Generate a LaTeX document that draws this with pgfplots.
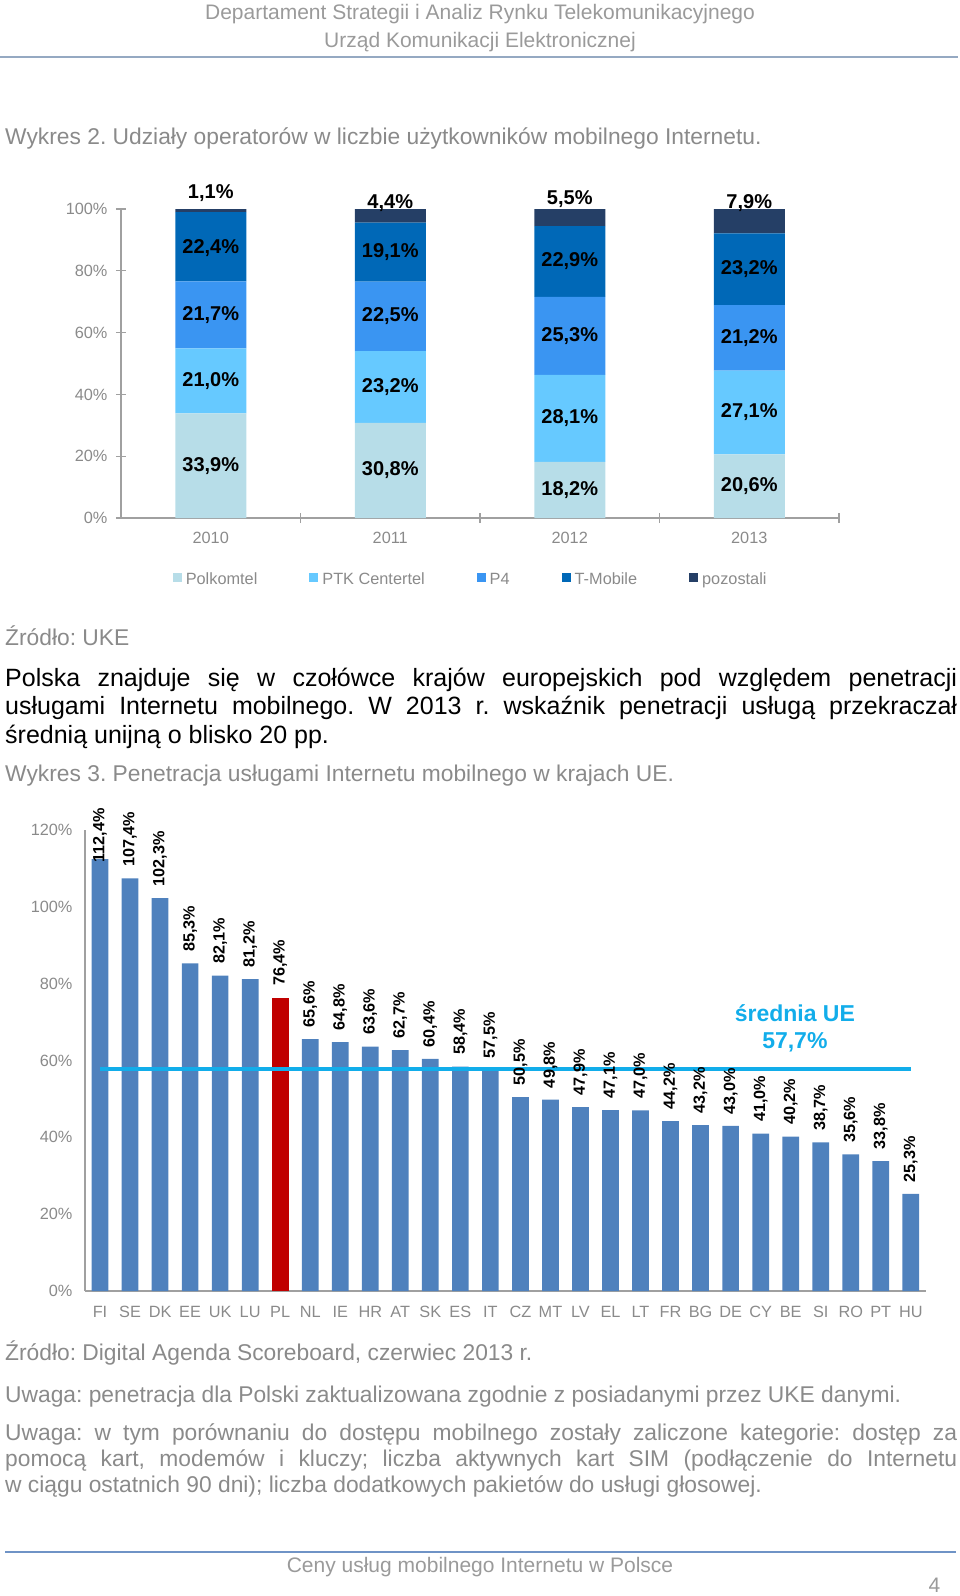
\documentclass[border=0pt]{standalone}
\usepackage{fontspec}
\setmainfont{Liberation Sans}
\usepackage{pgfplots}
\pgfplotsset{compat=1.18}
\definecolor{hdr}{HTML}{9A9A9A}
\definecolor{txtgray}{HTML}{8A8A8A}
\definecolor{axgray}{HTML}{A0A0A0}
\definecolor{c1}{HTML}{B7DDE8}
\definecolor{c2}{HTML}{66C9FF}
\definecolor{c3}{HTML}{3A95F2}
\definecolor{c4}{HTML}{0068B7}
\definecolor{c5}{HTML}{253F66}
\definecolor{barblue}{HTML}{4F81BD}
\definecolor{plred}{HTML}{C00000}
\definecolor{avgblue}{HTML}{12ADEA}
\definecolor{ruleA}{HTML}{95A9C2}
\definecolor{ruleB}{HTML}{6F93C6}
\pgfplotsset{sqlegend/.style={legend image code/.code={\fill[##1,draw=none] (0pt,-0.3pt) rectangle (9pt,8.7pt);}}}
\newcommand{\fs}[2]{\fontsize{#1}{#2}\selectfont}
\frenchspacing
\begin{document}
\frenchspacing
\begin{tikzpicture}[x=1pt,y=1pt]
\useasboundingbox (0,0) rectangle (960,-1596);
% header
\node[anchor=base, inner sep=0pt, text=hdr, font=\fs{21}{25}] at (480,-19.5) {Departament Strategii i Analiz Rynku Telekomunikacyjnego};
\node[anchor=base, inner sep=0pt, text=hdr, font=\fs{21}{25}] at (480,-47.5) {Urząd Komunikacji Elektronicznej};
\draw[ruleA, line width=2.5pt] (0,-57) -- (958,-57);
\node[anchor=base west, inner sep=0pt, text=txtgray, font=\fs{22.8}{26}] at (5,-144.5) {Wykres 2. Udziały operatorów w liczbie użytkowników mobilnego Internetu.};

% chart 1
\begin{axis}[
  at={(121pt,-518pt)}, anchor=south west, scale only axis,
  width=718pt, height=309pt,
  xmin=-0.5, xmax=3.5, ymin=0, ymax=100,
  ybar stacked, bar width=71pt,
  axis x line*=bottom, axis y line*=left,
  axis line style={draw=axgray, line width=1.2pt},
  xtick={0.5,1.5,2.5,3.5}, xticklabels={},
  extra x ticks={0,1,2,3}, extra x tick labels={2010,2011,2012,2013},
  extra x tick style={major tick length=0pt, xticklabel style={yshift=-11pt}},
  ytick={0,20,40,60,80,100}, yticklabels={0\%,20\%,40\%,60\%,80\%,100\%},
  tick align=center, major tick length=10pt,
  tick style={draw=axgray, line width=1.2pt},
  tick label style={font=\fs{16.3}{19}, text=txtgray},
  yticklabel style={xshift=-5pt},
  legend columns=5, legend cell align=left,
  legend style={draw=none, fill=none, at={(0.487,-0.204)}, anchor=center, font=\fs{16.3}{19}, text=txtgray,
    nodes={text height=0.72em, text depth=0.2em},
    /tikz/every odd column/.append style={column sep=2pt},
    /tikz/every even column/.append style={column sep=50pt}},
]
\addplot[fill=c1, draw=none, sqlegend] coordinates {(0,33.9) (1,30.8) (2,18.2) (3,20.6)};
\addplot[fill=c2, draw=none, sqlegend] coordinates {(0,21.0) (1,23.2) (2,28.1) (3,27.1)};
\addplot[fill=c3, draw=none, sqlegend] coordinates {(0,21.7) (1,22.5) (2,25.3) (3,21.2)};
\addplot[fill=c4, draw=none, sqlegend] coordinates {(0,22.4) (1,19.1) (2,22.9) (3,23.2)};
\addplot[fill=c5, draw=none, sqlegend] coordinates {(0,1.1) (1,4.4) (2,5.5) (3,7.9)};
\legend{Polkomtel,PTK Centertel,P4,T-Mobile,pozostali}
\end{axis}
\begin{axis}[
  at={(121pt,-518pt)}, anchor=south west, scale only axis,
  width=718pt, height=309pt,
  xmin=-0.5, xmax=3.5, ymin=0, ymax=100,
  hide axis, clip=false,
]
\addplot[draw=none, mark=none, nodes near coords, point meta=explicit symbolic,
  every node near coord/.append style={anchor=center, inner sep=0pt, font=\bfseries\fs{20}{24}, text=black}]
  table[row sep=\\, x index=0, y index=1, meta index=2, header=false] {
0 16.95 33,9\%\\
0 44.4 21,0\%\\
0 65.75 21,7\%\\
0 87.45 22,4\%\\
0 105.2 1,1\%\\
1 15.4 30,8\%\\
1 42.4 23,2\%\\
1 65.25 22,5\%\\
1 86.05 19,1\%\\
1 101.9 4,4\%\\
2 9.1 18,2\%\\
2 32.25 28,1\%\\
2 58.95 25,3\%\\
2 83.05 22,9\%\\
2 103.2 5,5\%\\
3 10.3 20,6\%\\
3 34.15 27,1\%\\
3 58.3 21,2\%\\
3 80.5 23,2\%\\
3 101.9 7,9\%\\
};
\end{axis}

% texts between
\node[anchor=base west, inner sep=0pt, text=txtgray, font=\fs{22.8}{26}] at (5,-645.5) {Źródło: UKE};
\node[anchor=base west, inner sep=0pt] at (5,-686) {\parbox[t]{952pt}{\fs{25}{28.5}\frenchspacing\tolerance=9999 Polska znajduje się w czołówce krajów europejskich pod względem penetracji\linebreak usługami Internetu mobilnego. W 2013 r. wskaźnik penetracji usługą przekraczał\linebreak średnią unijną o blisko 20 pp.}};
\node[anchor=base west, inner sep=0pt, text=txtgray, font=\fs{22.8}{26}] at (5,-781.5) {Wykres 3. Penetracja usługami Internetu mobilnego w krajach UE.};

% chart 2
\begin{axis}[
  at={(85pt,-1291pt)}, anchor=south west, scale only axis,
  width=840.8pt, height=461pt,
  xmin=-0.5, xmax=27.5, ymin=0, ymax=120, clip=false,
  axis x line*=bottom, axis y line*=left,
  axis line style={draw=axgray, line width=1.2pt},
  xtick={0,...,27},
  xticklabels={FI,SE,DK,EE,UK,LU,PL,NL,IE,HR,AT,SK,ES,IT,CZ,MT,LV,EL,LT,FR,BG,DE,CY,BE,SI,RO,PT,HU},
  ytick={0,20,40,60,80,100,120}, yticklabels={0\%,20\%,40\%,60\%,80\%,100\%,120\%},
  tick style={draw=none}, major tick length=0pt,
  tick label style={font=\fs{16.3}{19}, text=txtgray},
  yticklabel style={xshift=-9pt},
  xticklabel style={yshift=-12pt},
]
\addplot[ybar, bar width=16.7pt, bar shift=0pt, fill=barblue, draw=none] coordinates {
(0,112.4) (1,107.4) (2,102.3) (3,85.3) (4,82.1) (5,81.2) (7,65.6) (8,64.8) (9,63.6) (10,62.7)
(11,60.4) (12,58.4) (13,57.5) (14,50.5) (15,49.8) (16,47.9) (17,47.1) (18,47.0) (19,44.2) (20,43.2)
(21,43.0) (22,41.0) (23,40.2) (24,38.7) (25,35.6) (26,33.8) (27,25.3)};
\addplot[ybar, bar width=16.7pt, bar shift=0pt, fill=plred, draw=none] coordinates {(6,76.4)};
\addplot[avgblue, line width=4pt, mark=none] coordinates {(0,57.7) (27,57.7)};
\addplot[draw=none, mark=none, nodes near coords, point meta=explicit symbolic,
  every node near coord/.append style={yshift=11.5pt, rotate=90, anchor=west, inner sep=0pt, font=\bfseries\fs{16.2}{19}, text=black}]
  table[row sep=\\, x index=0, y index=1, meta index=2, header=false] {
0 108.5 112,4\%\\
1 107.4 107,4\%\\
2 102.3 102,3\%\\
3 85.3 85,3\%\\
4 82.1 82,1\%\\
5 81.2 81,2\%\\
6 76.4 76,4\%\\
7 65.6 65,6\%\\
8 64.8 64,8\%\\
9 63.6 63,6\%\\
10 62.7 62,7\%\\
11 60.4 60,4\%\\
12 58.4 58,4\%\\
13 57.5 57,5\%\\
14 50.5 50,5\%\\
15 49.8 49,8\%\\
16 47.9 47,9\%\\
17 47.1 47,1\%\\
18 47.0 47,0\%\\
19 44.2 44,2\%\\
20 43.2 43,2\%\\
21 43.0 43,0\%\\
22 41.0 41,0\%\\
23 40.2 40,2\%\\
24 38.7 38,7\%\\
25 35.6 35,6\%\\
26 33.8 33,8\%\\
27 25.3 25,3\%\\
};
\node[align=center, text=avgblue, font=\bfseries\fs{23}{26.7}] at (axis cs:23.14,68.35) {średnia UE\\57,7\%};
\end{axis}

% notes
\node[anchor=base west, inner sep=0pt, text=txtgray, font=\fs{22.8}{26}] at (5,-1360.5) {Źródło: Digital Agenda Scoreboard, czerwiec 2013 r.};
\node[anchor=base west, inner sep=0pt, text=txtgray, font=\fs{22.8}{26}] at (5,-1402.5) {Uwaga: penetracja dla Polski zaktualizowana zgodnie z posiadanymi przez UKE danymi.};
\node[anchor=base west, inner sep=0pt, text=txtgray] at (5,-1440.5) {\parbox[t]{952pt}{\fs{22.8}{26}\frenchspacing\tolerance=9999 Uwaga: w tym porównaniu do dostępu mobilnego zostały zaliczone kategorie: dostęp za\linebreak pomocą kart, modemów i kluczy; liczba aktywnych kart SIM (podłączenie do Internetu\linebreak w ciągu ostatnich 90 dni); liczba dodatkowych pakietów do usługi głosowej.}};

% footer
\draw[ruleB, line width=2.5pt] (5,-1552) -- (956,-1552);
\node[anchor=base, inner sep=0pt, text=hdr, font=\fs{21}{25}] at (480,-1572) {Ceny usług mobilnego Internetu w Polsce};
\node[anchor=base, inner sep=0pt, text=hdr, font=\fs{21}{25}] at (934.5,-1592) {4};
\end{tikzpicture}
\end{document}
